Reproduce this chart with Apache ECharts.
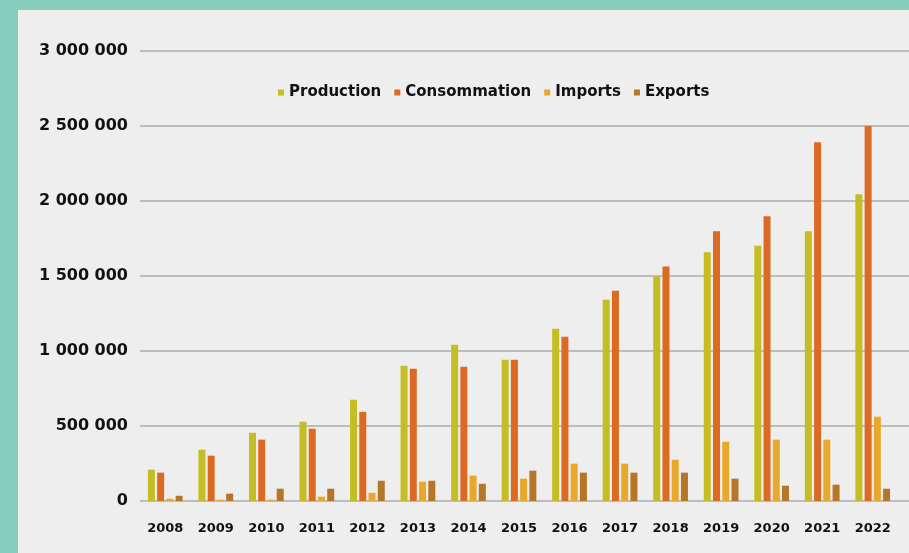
<!DOCTYPE html>
<html>
<head>
<meta charset="utf-8">
<title>Production / Consommation</title>
<script src="https://cdn.jsdelivr.net/npm/echarts@6/dist/echarts.min.js"></script>
<style>
	html, body { margin: 0; padding: 0; }
	body { width: 909px; height: 553px; background: #87cdbe; position: relative; overflow: hidden; }
	#chart { position: absolute; left: 18px; top: 10px; width: 891px; height: 543px; background: #eeeeee; }
</style>
</head>
<body>
<div id="chart"></div>
<script>
'use strict';

// données
var years = ['2008', '2009', '2010', '2011', '2012', '2013', '2014', '2015',
	'2016', '2017', '2018', '2019', '2020', '2021', '2022'];
var production = [209000, 342000, 455000, 529000, 675000, 902000, 1042000, 942000,
	1149000, 1342000, 1497000, 1658000, 1702000, 1798000, 2045000];
var consommation = [189000, 302000, 409000, 482000, 595000, 882000, 895000, 942000,
	1095000, 1402000, 1563000, 1798000, 1898000, 2391000, 2500000];
var imports = [15000, 9000, 9000, 29000, 55000, 129000, 169000, 149000,
	249000, 249000, 275000, 395000, 409000, 409000, 562000];
var exports = [35000, 49000, 82000, 82000, 135000, 135000, 115000, 202000,
	189000, 189000, 189000, 149000, 102000, 109000, 82000];
var seriesNames = ['Production', 'Consommation', 'Imports', 'Exports'];
var colors = ['#c4be24', '#dd6a23', '#e8a82b', '#b67628'];

var font = '"DejaVu Sans", sans-serif';

// format "3 000 000"
function formatNum(v) {
	return String(v).replace(/\B(?=(\d{3})+(?!\d))/g, ' ');
}

function buildChart() {
	var myChart = echarts.init(document.getElementById('chart'));
	var values = [production, consommation, imports, exports];
	var series = [];
	for (let i = 0; i < values.length; i++) {
		series.push({
			name: seriesNames[i],
			type: 'bar',
			xAxisIndex: 1,
			yAxisIndex: 1,
			barWidth: 7,
			barGap: '32%',
			itemStyle: { color: colors[i] },
			data: values[i]
		});
	}
	var option = {
		animation: false,
		color: colors,
		legend: {
			left: 255,
			top: 70,
			icon: 'rect',
			itemWidth: 6,
			itemHeight: 6,
			itemGap: 13,
			data: seriesNames,
			textStyle: { color: '#111', fontSize: 15, fontWeight: 'bold', fontFamily: font }
		},
		grid: [
			// grille des lignes horizontales (jusqu'au bord droit)
			{ left: 122, right: 0, top: 41, bottom: 52, containLabel: false },
			// grille des barres
			{ left: 122, right: 11, top: 41, bottom: 52, containLabel: false }
		],
		xAxis: [
			{ type: 'category', gridIndex: 0, data: years, show: false },
			{
				type: 'category', gridIndex: 1, data: years,
				axisLine: { show: false },
				axisTick: { show: false },
				axisLabel: { color: '#111', fontSize: 13, fontWeight: 'bold', fontFamily: font, margin: 21 }
			}
		],
		yAxis: [
			{
				type: 'value', gridIndex: 0, min: 0, max: 3000000, interval: 500000,
				axisLine: { show: false },
				axisTick: { show: false },
				splitLine: { lineStyle: { color: '#adadad', width: 1.5 } },
				axisLabel: {
					color: '#111', fontSize: 16, fontWeight: 'bold', fontFamily: font, margin: 12,
					padding: [0, 0, 8, 0],
					formatter: formatNum
				}
			},
			{
				type: 'value', gridIndex: 1, min: 0, max: 3000000, interval: 500000,
				show: false, splitLine: { show: false }
			}
		],
		series: series
	};
	myChart.setOption(option);
}

window.onload = function() {
	buildChart();
};
</script>
</body>
</html>
